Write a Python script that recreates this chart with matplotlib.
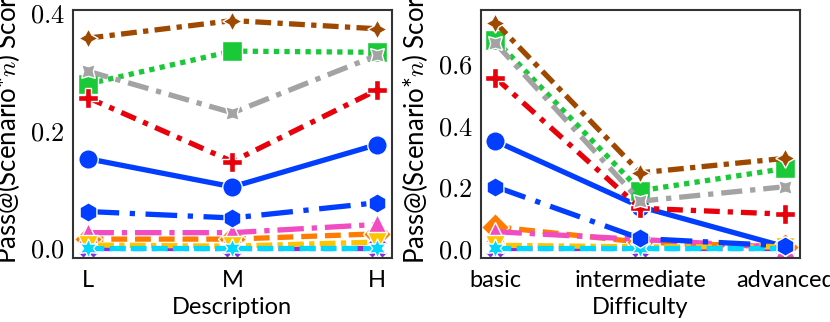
import matplotlib
matplotlib.use("Agg")
import matplotlib.pyplot as plt
from matplotlib.ticker import FuncFormatter

plt.rcParams["font.family"] = ["Lato", "DejaVu Sans"]
plt.rcParams["mathtext.fontset"] = "cm"

# Data
desc_labels = ["L", "M", "H"]
diff_labels = ["basic", "intermediate", "advanced"]

series_names = ["s0", "s1", "s2", "s3", "s4", "s5", "s6", "s7", "s8", "s9", "s10"]

desc_scores = [
    [0.152, 0.104, 0.176],   # blue circle
    [0.015, 0.015, 0.024],   # orange
    [0.279, 0.335, 0.333],   # green
    [0.256, 0.147, 0.269],   # red
    [0.000, 0.000, 0.000],   # purple
    [0.357, 0.387, 0.373],   # brown
    [0.026, 0.026, 0.040],   # pink
    [0.301, 0.230, 0.328],   # gray
    [0.005, 0.003, 0.010],   # yellow
    [0.000, 0.000, 0.000],   # cyan
    [0.062, 0.051, 0.077],   # blue hexagon
]

diff_scores = [
    [0.348, 0.135, 0.005],
    [0.070, 0.020, 0.005],
    [0.676, 0.187, 0.259],
    [0.553, 0.130, 0.111],
    [0.000, 0.000, 0.000],
    [0.732, 0.245, 0.292],
    [0.054, 0.029, 0.002],
    [0.665, 0.153, 0.200],
    [0.010, 0.005, 0.005],
    [0.000, 0.000, 0.000],
    [0.200, 0.032, 0.008],
]

colors = ["#023eff", "#ff7c00", "#1ac938", "#e8000b", "#8b2be2", "#9f4800",
          "#f14cc1", "#a3a3a3", "#ffc400", "#00d7ff", "#023eff"]
markers = ["o", "D", "s", "P", "X", (4, 1, 0), "^", (4, 1, 45), "v", (6, 1, 0), "h"]
styles = ["-", (0, (3, 1.5)), (0, (1, 1)), (0, (3, 1.5, 1, 1.5)), (0, (1, 1.5, 2, 1.5)),
          (0, (3, 1.2, 1, 1.2)), (0, (5, 1.5, 1, 1.5)), (0, (4, 1.5, 1, 1.5)),
          (0, (1, 1, 3, 1)), (0, (3, 1)), (0, (6, 2, 1, 2))]


def draw(ax, labels, scores):
    xs = range(len(labels))
    for i, vals in enumerate(scores):
        ax.plot(xs, vals, color=colors[i], marker=markers[i], linestyle=styles[i],
                linewidth=3.8, markersize=14, markeredgecolor="white",
                markeredgewidth=1, label=series_names[i])
    ax.set_xticks(list(xs))
    ax.set_xticklabels(labels)
    ax.set_xlim(-0.1, len(labels) - 0.9)
    ax.tick_params(axis="x", length=0, labelsize=17, pad=9)
    ax.tick_params(axis="y", length=0, labelsize=19, pad=6)
    ax.yaxis.set_major_formatter(FuncFormatter(lambda v, p: r"$%.1f$" % v))
    ax.set_ylabel(r"Pass@(Scenario*$n$) Score", fontsize=18.5)
    ax.yaxis.set_label_coords(-0.16, 0.54)
    for s in ax.spines.values():
        s.set_color("#333333")
        s.set_linewidth(1.5)


fig = plt.figure(figsize=(8.3, 3.22), dpi=100)
ax1 = fig.add_axes([0.088, 0.199, 0.384, 0.770])
ax2 = fig.add_axes([0.5795, 0.199, 0.384, 0.770])

draw(ax1, desc_labels, desc_scores)
ax1.set_yticks([0.0, 0.2, 0.4])
ax1.set_ylim(-0.017, 0.405)
ax1.set_xlabel("Description", fontsize=17, labelpad=4)

draw(ax2, diff_labels, diff_scores)
ax2.set_yticks([0.0, 0.2, 0.4, 0.6])
ax2.set_ylim(-0.031, 0.773)
ax2.set_xlabel("Difficulty", fontsize=17, labelpad=4)

fig.savefig("out.png", dpi=100)
